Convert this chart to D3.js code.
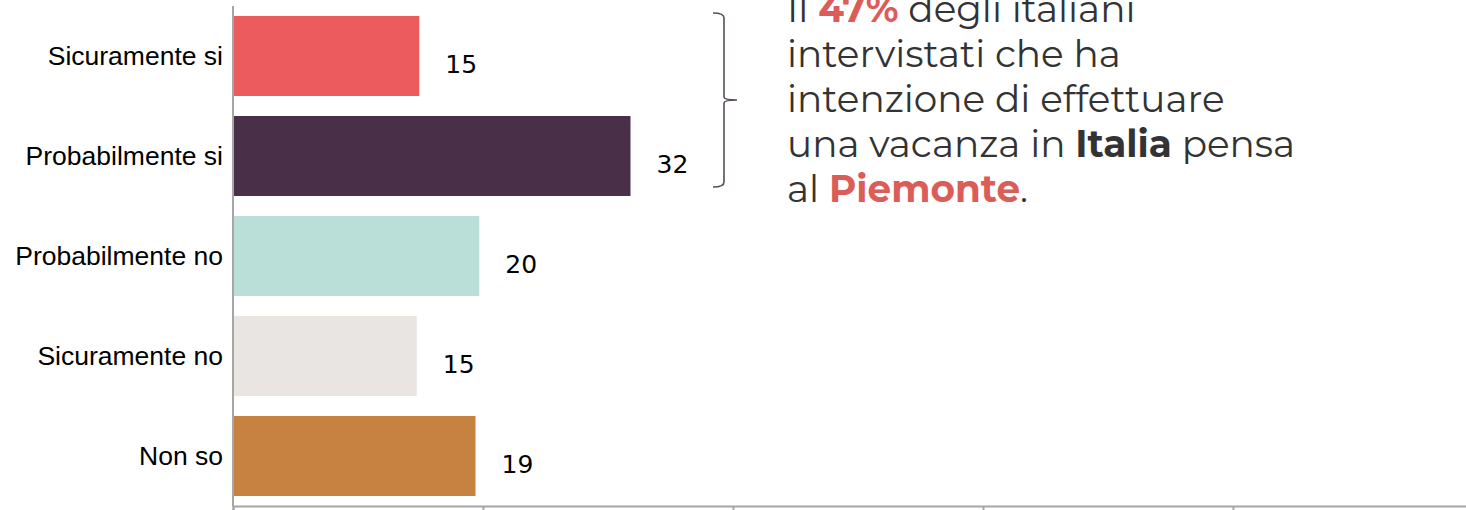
<!DOCTYPE html>
<html>
<head>
<meta charset="utf-8">
<script src="https://cdn.jsdelivr.net/npm/d3@7"></script>
<style>
	body { margin: 0; background: #fff; }
	svg { display: block; }
</style>
</head>
<body>
<svg id="chartSVG" width="1466" height="510"></svg>
<script>

var categories = ["Sicuramente si", "Probabilmente si", "Probabilmente no", "Sicuramente no", "Non so"];
var values = [14.9, 31.8, 19.7, 14.7, 19.4];
var barColors = ["#ec5c5f", "#4a2f48", "#b9dfd8", "#e8e5e3", "#c78241"];
var xTicks = [0, 20, 40, 60, 80, 100];

// annotation lines, each a list of [text, style]
var noteLines = [
	[["Il ", "normal"], ["47%", "red"], [" degli italiani", "normal"]],
	[["intervistati che ha", "normal"]],
	[["intenzione di effettuare", "normal"]],
	[["una vacanza in ", "normal"], ["Italia", "bold"], [" pensa", "normal"]],
	[["al ", "normal"], ["Piemonte", "red"], [".", "normal"]]
];

renderBars("#chartSVG");

function renderBars(element) {

	var svg = d3.select(element);

	var xScale = d3.scaleLinear()
		.domain([0, 100])
		.range([233, 1483]);

	var yScale = d3.scaleBand()
		.domain(categories)
		.range([6, 506])
		.paddingInner(0.2)
		.paddingOuter(0.1);

	var color = d3.scaleOrdinal()
		.domain(categories)
		.range(barColors);

	svg.append("g")
		.selectAll("rect.bar")
		.data(categories)
		.enter()
		.append("rect")
		.attr("class", "bar")
		.attr("x", xScale(0))
		.attr("y", d => yScale(d))
		.attr("width", (d, i) => xScale(values[i]) - xScale(0))
		.attr("height", yScale.bandwidth())
		.attr("fill", d => color(d));

	// value labels
	svg.append("g")
		.selectAll("text")
		.data(categories)
		.enter()
		.append("text")
		.attr("x", (d, i) => xScale(values[i]) + 26)
		.attr("y", d => yScale(d) + yScale.bandwidth() / 2 + 16.5)
		.attr("font-family", "'DejaVu Sans', Verdana, sans-serif")
		.attr("font-size", 25)
		.attr("fill", "#000")
		.text((d, i) => Math.round(values[i]));

	// category labels
	svg.append("g")
		.selectAll("text")
		.data(categories)
		.enter()
		.append("text")
		.attr("x", 223)
		.attr("y", d => yScale(d) + yScale.bandwidth() / 2)
		.attr("dy", "0.35em")
		.attr("text-anchor", "end")
		.attr("font-family", "'Liberation Sans', Arial, sans-serif")
		.attr("font-size", 26.5)
		.attr("fill", "#000")
		.text(d => d);

	var xAxis = svg.append("g")
		.attr("transform", "translate(0," + yScale.range()[1] + ")")
		.call(d3.axisBottom(xScale).tickValues(xTicks).tickSize(6).tickFormat(""));

	xAxis.select(".domain").attr("stroke", "#a6a6a6").attr("stroke-width", 2);
	xAxis.selectAll(".tick line").attr("stroke", "#a6a6a6").attr("stroke-width", 2);

	svg.append("line")
		.attr("x1", xScale(0))
		.attr("x2", xScale(0))
		.attr("y1", yScale.range()[0])
		.attr("y2", yScale.range()[1])
		.attr("stroke", "#a6a6a6")
		.attr("stroke-width", 2);

	brace(svg, yScale(categories[0]) - 3, yScale(categories[1]) + yScale.bandwidth() - 9);

	note(svg);

}

function brace(svg, top, bottom) {

	var x0 = 713, x1 = 724, tip = 737;
	var mid = (top + bottom) / 2;

	var path = d3.path();
	path.moveTo(x0, top);
	path.quadraticCurveTo(x1, top, x1, top + 5);
	path.lineTo(x1, mid - 3);
	path.quadraticCurveTo(x1, mid, tip, mid);
	path.moveTo(tip, mid);
	path.quadraticCurveTo(x1, mid, x1, mid + 3);
	path.lineTo(x1, bottom - 5);
	path.quadraticCurveTo(x1, bottom, x0, bottom);

	svg.append("path")
		.attr("d", path.toString())
		.attr("fill", "none")
		.attr("stroke", "#5b4a5c")
		.attr("stroke-width", 1.6);

}

function note(svg) {

	var styles = {
		"normal": {weight: 400, fill: "#333333"},
		"bold": {weight: 700, fill: "#333333"},
		"red": {weight: 700, fill: "#dc5c58"}
	};

	var text = svg.append("text")
		.attr("font-family", "Montserrat, Inter, 'Open Sans', sans-serif")
		.attr("font-size", 37.4);

	noteLines.forEach(function(line, i) {

		line.forEach(function(part, j) {

			var span = text.append("tspan")
				.attr("font-weight", styles[part[1]].weight)
				.attr("fill", styles[part[1]].fill)
				.attr("xml:space", "preserve")
				.text(part[0]);

			if (j == 0) {
				span.attr("x", 787).attr("y", 22 + i * 45);
			}

		});

	});

}

</script>
</body>
</html>
